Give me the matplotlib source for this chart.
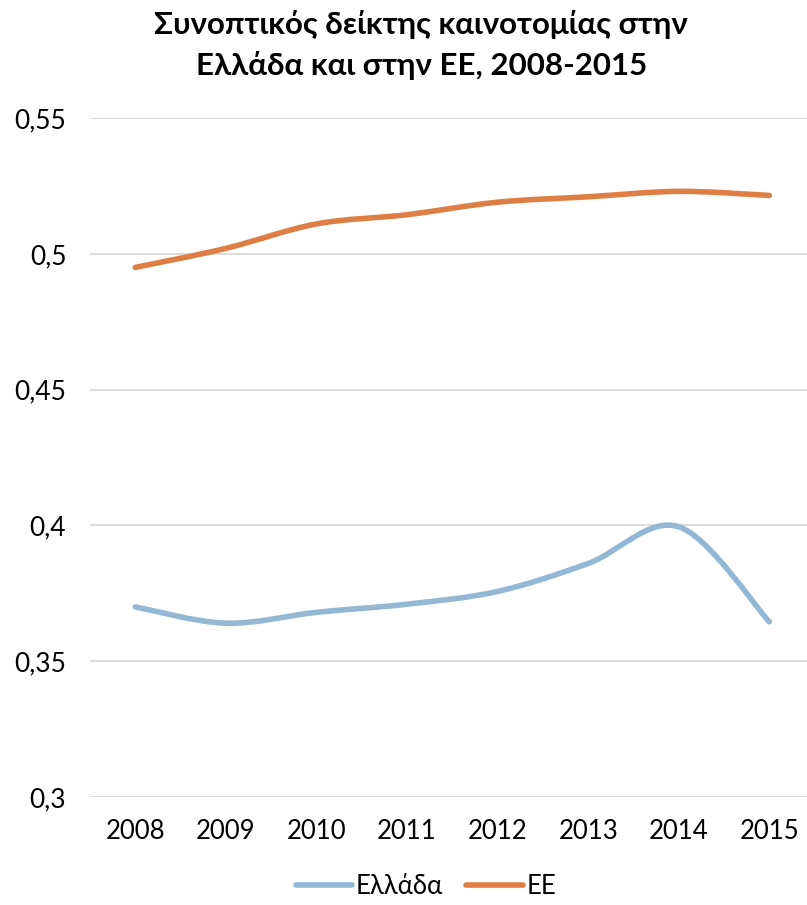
import matplotlib
matplotlib.use("Agg")
import matplotlib.pyplot as plt
from matplotlib.path import Path
from matplotlib.patches import PathPatch
from matplotlib.lines import Line2D

plt.rcParams["font.family"] = ["Lato", "Noto Sans", "DejaVu Sans"]

years = ["2008", "2009", "2010", "2011", "2012", "2013", "2014", "2015"]
greece = [0.370, 0.364, 0.368, 0.371, 0.3757, 0.386, 0.3995, 0.3645]
eu = [0.495, 0.502, 0.511, 0.5144, 0.519, 0.521, 0.523, 0.5215]
y_ticks = [0.30, 0.35, 0.40, 0.45, 0.50, 0.55]
y_labels = ["0,3", "0,35", "0,4", "0,45", "0,5", "0,55"]

GREECE_COLOR = "#94B7D6"
EU_COLOR = "#DE7E44"
GRID_COLOR = "#D9D9D9"


def smooth_path(xs, ys):
    # cubic Bezier segments with Catmull-Rom style tangents
    verts = [(xs[0], ys[0])]
    codes = [Path.MOVETO]
    n = len(xs)
    for i in range(n - 1):
        x0, y0 = (xs[i - 1], ys[i - 1]) if i > 0 else (xs[i], ys[i])
        x1, y1 = xs[i], ys[i]
        x2, y2 = xs[i + 1], ys[i + 1]
        x3, y3 = (xs[i + 2], ys[i + 2]) if i + 2 < n else (x2, y2)
        c1 = (x1 + (x2 - x0) / 6, y1 + (y2 - y0) / 6)
        c2 = (x2 - (x3 - x1) / 6, y2 - (y3 - y1) / 6)
        verts += [c1, c2, (x2, y2)]
        codes += [Path.CURVE4] * 3
    return Path(verts, codes)


fig = plt.figure(figsize=(8.07, 9.05), dpi=100)
ax = fig.add_axes([0.1115, 0.1193, 0.898, 0.7503])

xs = list(range(len(years)))
for values, color in [(greece, GREECE_COLOR), (eu, EU_COLOR)]:
    patch = PathPatch(smooth_path(xs, values), facecolor="none", edgecolor=color,
                      linewidth=4.0, capstyle="round", joinstyle="round", zorder=3)
    ax.add_patch(patch)

ax.set_xlim(-0.5, len(years) - 0.5)
ax.set_ylim(0.30, 0.55)
ax.set_xticks(xs)
ax.set_xticklabels(years, fontsize=18.5)
ax.set_yticks(y_ticks)
ax.set_yticklabels(y_labels, fontsize=19)
ax.tick_params(length=0)
ax.tick_params(axis="y", pad=17)
ax.tick_params(axis="x", pad=16)
ax.grid(axis="y", color=GRID_COLOR, linewidth=1.3)
ax.set_axisbelow(True)
for spine in ax.spines.values():
    spine.set_visible(False)

fig.text(0.522, 0.950, "Συνοπτικός δείκτης καινοτομίας στην\nΕλλάδα και στην ΕΕ, 2008-2015",
         ha="center", va="center", fontsize=22.5, fontweight="bold", linespacing=1.5)

handles = [Line2D([], [], color=GREECE_COLOR, linewidth=4.0, solid_capstyle="round"),
           Line2D([], [], color=EU_COLOR, linewidth=4.0, solid_capstyle="round")]
fig.legend(handles, ["Ελλάδα", "ΕΕ"], loc="center", bbox_to_anchor=(0.528, 0.020),
           ncol=2, frameon=False, fontsize=18.5, handlelength=2.2, handletextpad=0.15,
           columnspacing=0.9)

fig.savefig("out.png", dpi=100)
